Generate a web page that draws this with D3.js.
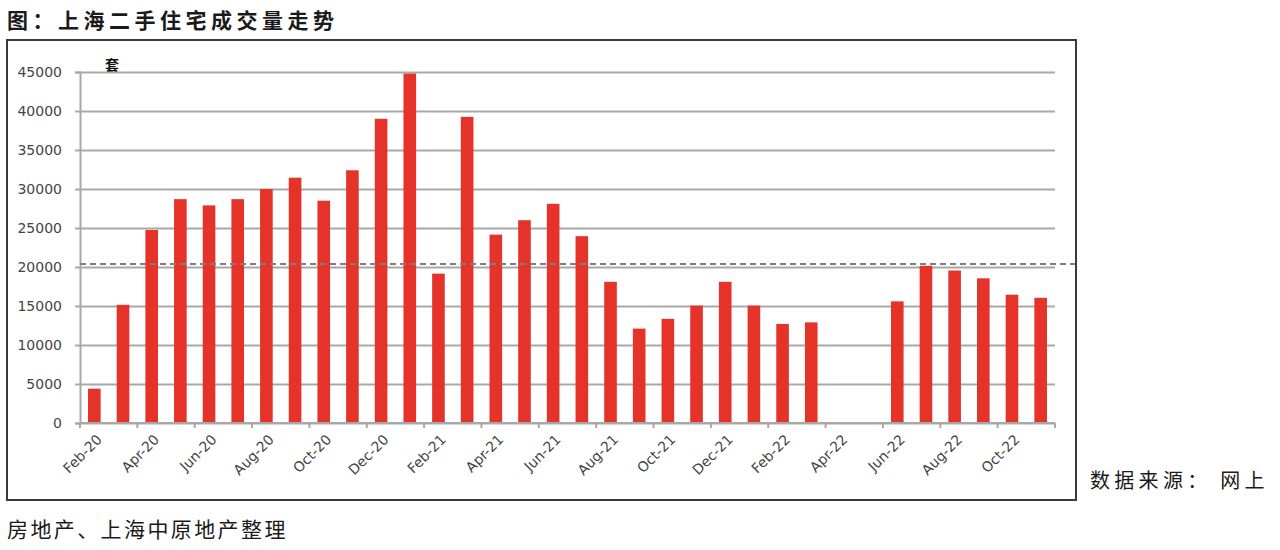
<!DOCTYPE html>
<html>
<head>
<meta charset="utf-8">
<script src="https://cdn.jsdelivr.net/npm/d3@7"></script>
<style>
  body { margin: 0; background: #fff; }
  svg text { font-family: "Noto Sans CJK SC", "DejaVu Sans", sans-serif; }
  .axis text { font-family: "DejaVu Sans", sans-serif; font-size: 14px; fill: #454545; }
</style>
</head>
<body>
<div id="chart"></div>
<script>
const width = 1280;
const height = 550;

// Monthly second-hand residential transactions (units)
const months = [
  'Feb-20', 'Mar-20', 'Apr-20', 'May-20', 'Jun-20', 'Jul-20', 'Aug-20', 'Sep-20',
  'Oct-20', 'Nov-20', 'Dec-20', 'Jan-21', 'Feb-21', 'Mar-21', 'Apr-21', 'May-21',
  'Jun-21', 'Jul-21', 'Aug-21', 'Sep-21', 'Oct-21', 'Nov-21', 'Dec-21', 'Jan-22',
  'Feb-22', 'Mar-22', 'Apr-22', 'May-22', 'Jun-22', 'Jul-22', 'Aug-22', 'Sep-22',
  'Oct-22', 'Nov-22'
];
const volumes = [
  4400, 15150, 24750, 28700, 27900, 28700, 30000, 31450,
  28500, 32400, 39000, 44800, 19150, 39250, 24150, 26000,
  28100, 23950, 18100, 12100, 13350, 15050, 18100, 15050,
  12700, 12900, 0, 0, 15600, 20150, 19550, 18550,
  16450, 16050
];
const yTicks = [0, 5000, 10000, 15000, 20000, 25000, 30000, 35000, 40000, 45000];
const avgLine = 20400;

const plotLeft = 80;
const plotRight = 1055;
const plotTop = 72;
const plotBottom = 423;

const svg = d3.select('#chart').append('svg')
  .attr('width', width)
  .attr('height', height);

// title
svg.append('text')
  .attr('x', 7)
  .attr('y', 28)
  .attr('font-size', 21)
  .attr('font-weight', 'bold')
  .attr('letter-spacing', 4.5)
  .attr('fill', '#1a1a1a')
  .text('图：上海二手住宅成交量走势');

// outer box
svg.append('rect')
  .attr('x', 7)
  .attr('y', 40)
  .attr('width', 1069)
  .attr('height', 460)
  .attr('fill', 'none')
  .attr('stroke', '#3a3a3a')
  .attr('stroke-width', 2);

const x = d3.scaleBand()
  .domain(months)
  .range([plotLeft, plotRight])
  .paddingInner(0.56)
  .paddingOuter(0.28);

const y = d3.scaleLinear()
  .domain([0, 45000])
  .range([plotBottom, plotTop]);

// gridlines
svg.append('g')
  .attr('transform', `translate(${plotLeft},0)`)
  .call(d3.axisLeft(y).tickValues(yTicks).tickSize(-(plotRight - plotLeft)).tickFormat(''))
  .call(g => g.select('.domain').remove())
  .call(g => g.selectAll('line').attr('stroke', '#a8a8a8').attr('stroke-width', 2));

// y axis
svg.append('g')
  .attr('class', 'axis')
  .attr('transform', `translate(${plotLeft},0)`)
  .call(d3.axisLeft(y).tickValues(yTicks).tickSize(5).tickPadding(13).tickFormat(d3.format('d')))
  .call(g => g.select('.domain').attr('stroke', '#a8a8a8').attr('stroke-width', 2))
  .call(g => g.selectAll('line').attr('stroke', '#a8a8a8').attr('stroke-width', 2));

// bars
svg.append('g').selectAll('rect')
  .data(months.map((m, i) => ({ month: m, value: volumes[i] })).filter(d => d.value > 0))
  .join('rect')
    .attr('x', d => x(d.month))
    .attr('width', x.bandwidth())
    .attr('y', d => y(d.value))
    .attr('height', d => y(0) - y(d.value))
    .attr('fill', '#e63329');

// x axis line
svg.append('line')
  .attr('x1', plotLeft)
  .attr('x2', plotRight)
  .attr('y1', y(0))
  .attr('y2', y(0))
  .attr('stroke', '#a8a8a8')
  .attr('stroke-width', 2);

// tick marks between categories, every 2 months
const half = (x.step() - x.bandwidth()) / 2;
const tickMonths = months.filter((m, i) => i % 2 === 0);
svg.append('g').selectAll('line')
  .data(tickMonths.concat([null]))
  .join('line')
    .attr('x1', d => d === null ? plotRight : x(d) - half)
    .attr('x2', d => d === null ? plotRight : x(d) - half)
    .attr('y1', y(0))
    .attr('y2', y(0) + 5)
    .attr('stroke', '#a8a8a8')
    .attr('stroke-width', 2);

// x labels
svg.append('g')
  .attr('class', 'axis')
  .selectAll('text')
  .data(tickMonths)
  .join('text')
    .attr('text-anchor', 'end')
    .attr('transform', d => `translate(${x(d) + x.bandwidth() / 2 + 5},${plotBottom + 14}) rotate(-45)`)
    .attr('dy', '0.35em')
    .text(d => d);

// average dashed line
svg.append('line')
  .attr('x1', plotLeft)
  .attr('x2', 1075)
  .attr('y1', y(avgLine))
  .attr('y2', y(avgLine))
  .attr('stroke', '#7f7f7f')
  .attr('stroke-width', 2)
  .attr('stroke-dasharray', '6,4');

// unit label
svg.append('text')
  .attr('x', 112)
  .attr('y', 70)
  .attr('text-anchor', 'middle')
  .attr('font-size', 14)
  .attr('font-weight', 'bold')
  .attr('fill', '#111')
  .text('套');

// source
svg.append('text')
  .attr('x', 1090)
  .attr('y', 488)
  .attr('font-size', 20)
  .attr('letter-spacing', 4.3)
  .attr('fill', '#1a1a1a')
  .text('数据来源： 网上');

svg.append('text')
  .attr('x', 7)
  .attr('y', 537)
  .attr('font-size', 21)
  .attr('letter-spacing', 2.4)
  .attr('fill', '#1a1a1a')
  .text('房地产、上海中原地产整理');
</script>
</body>
</html>
